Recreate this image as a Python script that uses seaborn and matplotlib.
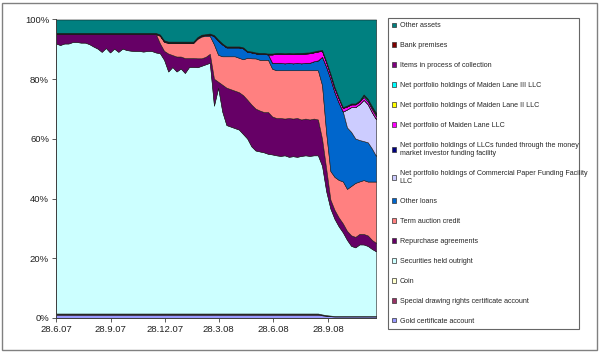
"""Federal Reserve balance sheet: share of total assets by item, 100% stacked area."""

import numpy as np
import pandas as pd
import seaborn as sns
import matplotlib
matplotlib.use("Agg")
import matplotlib.pyplot as plt
import matplotlib.dates as mdates
from matplotlib.patches import Patch, Rectangle
from matplotlib.ticker import FuncFormatter

# weekly observations, 28.6.07 .. 18.12.08 (78 weeks)
dates = pd.date_range("2007-06-28", periods=78, freq="7D")

# shares of total assets in percent
gold = [1.1] * 64 + [0.9, 0.7, 0.6] + [0.5] * 11
sdr = [0.25] * 64 + [0.2, 0.15, 0.12] + [0.1] * 11
coin = [0.15] * 64 + [0.1, 0.1, 0.08] + [0.05] * 11
securities = [
    90.5, 90.0, 90.5, 90.5, 91.0, 91.0, 90.8, 90.8, 90.3, 89.5, 88.8, 87.7, 89.0,
    87.5, 88.8, 87.7, 88.8, 88.3, 88.1, 88.0, 88.0, 87.8, 88.0, 88.0, 87.5,
    87.2, 85.0, 81.0, 82.5, 81.0, 82.0, 80.5, 82.5, 82.5, 82.5, 83.0, 83.5, 84.0,
    69.5, 75.5, 67.5, 63.0, 62.5, 62.0, 61.5, 60.0, 58.5, 56.0, 54.5, 54.3, 54.0, 53.5,
    53.3, 53.0, 52.8, 53.0, 52.5, 52.7, 52.5, 52.8, 53.0, 52.8, 53.0, 53.0,
    49.8, 41.5, 35.7, 32.4, 29.9, 27.9, 25.4, 23.4, 22.9, 23.9, 23.9, 23.4, 22.4, 21.6,
]
repo = [
    3.2, 3.7, 3.2, 3.2, 2.7, 2.7, 2.9, 2.9, 3.4, 4.2, 4.9, 6.0, 4.7,
    6.2, 4.9, 6.0, 4.9, 5.4, 5.6, 5.7, 5.7, 5.9, 5.7, 5.7, 6.2,
    3.3, 3.0, 6.0, 4.0, 5.0, 4.0, 5.0, 3.0, 3.0, 3.0, 2.5, 2.5, 3.0,
    9.0, 2.0, 9.0, 12.5, 12.5, 12.5, 12.5, 13.0, 13.0, 14.0, 14.0, 13.7, 13.5, 14.0,
    12.7, 12.5, 12.7, 12.3, 13.0, 12.6, 13.0, 12.2, 12.3, 12.2, 12.3, 12.0,
    9.0, 7.5, 3.0, 3.0, 3.0, 3.0, 3.0, 3.5, 3.5, 3.5, 3.5, 3.5, 3.0, 2.8,
]
term_auction = [0.0] * 25 + [
    2.5, 3.0, 3.5, 4.0, 4.5, 4.5, 5.0, 5.0, 5.0, 6.5, 7.3, 7.0, 6.0,
    11.5, 9.0, 9.5, 10.5, 11.0, 11.5, 11.5, 12.0, 14.0, 15.5, 16.8, 17.0, 17.5, 17.5,
    16.0, 16.0, 16.0, 16.2, 16.0, 16.2, 16.0, 16.5, 16.2, 16.5, 16.2, 16.5,
    18.0, 12.0, 9.5, 11.0, 12.5, 14.0, 14.0, 16.5, 18.0, 17.5, 18.0, 18.0, 19.5, 20.5,
]
other_loans = [0.05] * 25 + [0.2] * 9 + [0.3, 0.3, 0.3, 0.5] + [
    2.8, 4.8, 4.0, 3.0, 3.0, 3.0, 3.5, 3.7, 2.0, 2.0, 1.7, 2.0, 2.0, 1.8,
    2.0, 2.5, 2.5, 2.3, 2.5, 2.3, 2.5, 2.3, 2.5, 2.5, 3.0, 3.3,
    9.5, 22.2, 30.8, 28.3, 25.8, 23.3, 20.5, 18.0, 14.8, 13.8, 13.0, 13.1, 11.0, 8.5,
]
cpff = [0.0] * 70 + [6.0, 8.3, 10.5, 12.0, 13.8, 12.7, 12.1, 12.3]
mmiff = [0.0] * 78
maiden_lane = [0.0] * 52 + [
    2.8, 3.0, 3.0, 3.1, 3.0, 3.1, 3.0, 3.2, 3.1, 3.2, 3.0, 3.0,
    2.0, 1.5, 1.4, 1.4, 1.4, 1.2, 1.0, 0.9, 0.9, 0.9, 1.0, 1.0, 1.0, 1.0,
]
maiden_lane2 = [0.0] * 76 + [0.3, 0.3]
maiden_lane3 = [0.0] * 74 + [0.5, 0.5, 0.4, 0.4]
items_collection = [0.15] * 78
bank_premises = [0.15] * 78
other_assets = [4.5] * 25 + [5.0, 7.0] + [7.4] * 7 + [
    5.9, 5.1, 4.9, 4.7, 5.2, 6.7, 8.0, 9.0, 9.0, 9.0, 9.0, 9.3, 10.5, 10.7, 11.0, 11.2, 11.2, 11.4,
    11.4, 11.2, 11.2, 11.3, 11.2, 11.3, 11.2, 11.2, 11.1, 11.0, 10.7, 10.4,
    10.2, 14.0, 18.0, 22.5, 26.0, 29.2, 28.7, 28.0, 28.0, 27.0, 25.0, 26.5, 29.0, 31.3,
]

labels = [
    "Gold certificate account",
    "Special drawing rights certificate account",
    "Coin",
    "Securities held outright",
    "Repurchase agreements",
    "Term auction credit",
    "Other loans",
    "Net portfolio holdings of Commercial Paper Funding Facility\nLLC",
    "Net portfolio holdings of LLCs funded through the money\nmarket investor funding facility",
    "Net portfolio of Maiden Lane LLC",
    "Net portfolio holdings of Maiden Lane II LLC",
    "Net portfolio holdings of Maiden Lane III LLC",
    "Items in process of collection",
    "Bank premises",
    "Other assets",
]
series = [gold, sdr, coin, securities, repo, term_auction, other_loans, cpff, mmiff,
          maiden_lane, maiden_lane2, maiden_lane3, items_collection, bank_premises,
          other_assets]
colors = ["#9999FF", "#993366", "#FFFFCC", "#CCFFFF", "#660066", "#FF8080", "#0066CC",
          "#CCCCFF", "#000080", "#FF00FF", "#FFFF00", "#00FFFF", "#800080", "#800000",
          "#008080"]

df = pd.DataFrame(dict(zip(labels, series)), index=dates)
share = df.div(df.sum(axis=1), axis=0) * 100

sns.set_style("white")
plt.rcParams["font.family"] = ["Liberation Sans", "DejaVu Sans"]

fig = plt.figure(figsize=(6.04, 3.53), dpi=100)
ax = fig.add_axes([0.0927, 0.0992, 0.53, 0.8456])

ax.stackplot(share.index, share.T.values, colors=colors,
             edgecolor="#1a1a1a", linewidth=0.4)

ax.set_xlim(dates[0], dates[-1])
ax.set_ylim(0, 100)
ax.set_yticks(range(0, 101, 20))
ax.yaxis.set_major_formatter(FuncFormatter(lambda v, p: f"{int(v)}%"))
tick_dates = pd.to_datetime(["2007-06-28", "2007-09-28", "2007-12-28",
                             "2008-03-28", "2008-06-28", "2008-09-28"])
ax.set_xticks(tick_dates)
ax.xaxis.set_major_formatter(FuncFormatter(
    lambda v, p: (lambda d: f"{d.day}.{d.month}.{d:%y}")(mdates.num2date(v))))
ax.tick_params(axis="both", labelsize=6.8, length=3, width=0.6, color="#404040",
               direction="out", pad=2, colors="#202020")
ax.tick_params(axis="both", which="both", bottom=True, left=True)
sns.despine(ax=ax)
for side in ("left", "bottom"):
    ax.spines[side].set_color("#404040")
    ax.spines[side].set_linewidth(0.7)
ax.set_facecolor("white")

handles = [Patch(facecolor=c, edgecolor="#333333", linewidth=0.5) for c in colors]
leg = fig.legend(handles[::-1], labels[::-1], loc="upper left",
                 bbox_to_anchor=(0.642, 0.046, 0.317, 0.903), mode="expand",
                 fontsize=5.1, frameon=True, fancybox=False, labelspacing=1.83,
                 handlelength=0.6, handleheight=0.6, handletextpad=0.5,
                 borderpad=0.6, borderaxespad=0)
leg.get_frame().set_edgecolor("#404040")
leg.get_frame().set_linewidth(0.8)

fig.patches.append(Rectangle((0.004, 0.008), 0.985, 0.984, transform=fig.transFigure,
                             fill=False, edgecolor="#808080", linewidth=1.0))

fig.savefig("out.png", dpi=100)
